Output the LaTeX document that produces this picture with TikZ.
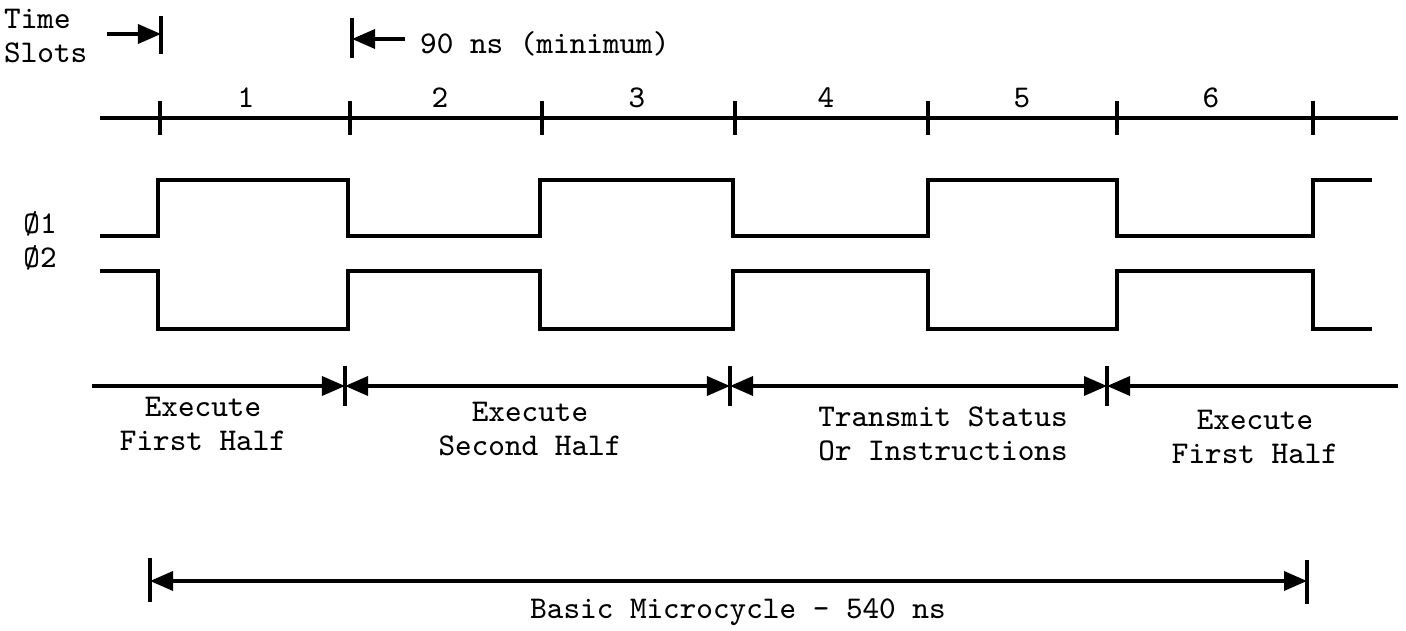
\documentclass[tikz,border=0pt]{standalone}
\usepackage{fontspec}
\setmonofont{Latin Modern Mono}
\usetikzlibrary{arrows.meta}

\begin{document}
\begin{tikzpicture}[
    x=0.01cm, y=-0.01cm,
    font=\ttfamily\fontsize{9}{9.8}\selectfont,
    >={Triangle[length=2.3mm, width=1.9mm]},
    axisline/.style={line width=0.9pt},
    tickmark/.style={line width=1.1pt},
    signal/.style={line width=1.2pt},
    dimline/.style={line width=1pt},
    textlabel/.style={align=center, inner sep=1pt}
  ]
    \useasboundingbox (0,0) rectangle (1406,631);

    % time slot ruler
    \node[textlabel, align=left, anchor=west] (slots) at (0,36) {Time\\Slots};
    \coordinate (tsa) at (107,34);
    \coordinate (tsb) at (161,34);
    \coordinate (tsc) at (405,39);
    \coordinate (tsd) at (352,39);
    \draw[dimline,->] (tsa) -- (tsb);
    \draw[tickmark] (161,16) -- (161,54);
    \draw[dimline,->] (tsc) -- (tsd);
    \draw[tickmark] (352,18) -- (352,58);
    \node[textlabel, anchor=west] (mindur) at (416,44) {90 ns (minimum)};

    \coordinate (axl) at (100,118);
    \coordinate (axr) at (1398,118);
    \draw[axisline] (axl) -- (axr);
    \foreach \xpos in {160,350,542,735,928,1117,1313}
      \draw[tickmark] (\xpos,101) -- (\xpos,135);
    \foreach \xpos/\num in {246/1,440/2,637/3,826/4,1022/5,1211/6}
      \node[textlabel, anchor=south] (slot\num) at (\xpos,112) {\num};

    % clock phases
    \node[textlabel] (phione) at (40,224) {Ø1};
    \node[textlabel] (phitwo) at (40,258) {Ø2};
    \draw[signal] (100,236) -- (158,236) -- (158,180) -- (348,180) -- (348,236)
      -- (540,236) -- (540,180) -- (733,180) -- (733,236) -- (928,236)
      -- (928,180) -- (1117,180) -- (1117,236) -- (1313,236) -- (1313,180) -- (1372,180);
    \draw[signal] (100,271) -- (158,271) -- (158,329) -- (348,329) -- (348,271)
      -- (540,271) -- (540,329) -- (733,329) -- (733,271) -- (928,271)
      -- (928,329) -- (1117,329) -- (1117,271) -- (1313,271) -- (1313,329) -- (1372,329);

    % phases of the microcycle
    \coordinate (pha) at (92,386);
    \coordinate (phb) at (345,386);
    \coordinate (phc) at (730,386);
    \coordinate (phd) at (1107,386);
    \coordinate (phe) at (1398,386);
    \draw[dimline,->] (pha) -- (phb);
    \draw[dimline,<->] (phb) -- (phc);
    \draw[dimline,<->] (phc) -- (phd);
    \draw[dimline,<-] (phd) -- (phe);
    \foreach \xpos in {345,730,1107}
      \draw[tickmark] (\xpos,366) -- (\xpos,406);

    \node[textlabel] (exfirst) at (203,424) {Execute\\First Half};
    \node[textlabel] (exsecond) at (530,429) {Execute\\Second Half};
    \node[textlabel] (transmit) at (943,434) {Transmit Status\\Or Instructions};
    \node[textlabel] (exnext) at (1255,437) {Execute\\First Half};

    % basic microcycle
    \coordinate (mca) at (150,581);
    \coordinate (mcb) at (1307,581);
    \draw[dimline,<->] (mca) -- (mcb);
    \draw[tickmark] (150,558) -- (150,602);
    \draw[tickmark] (1307,560) -- (1307,604);
    \node[textlabel] (cycle) at (738,612) {Basic Microcycle - 540 ns};
\end{tikzpicture}
\end{document}
